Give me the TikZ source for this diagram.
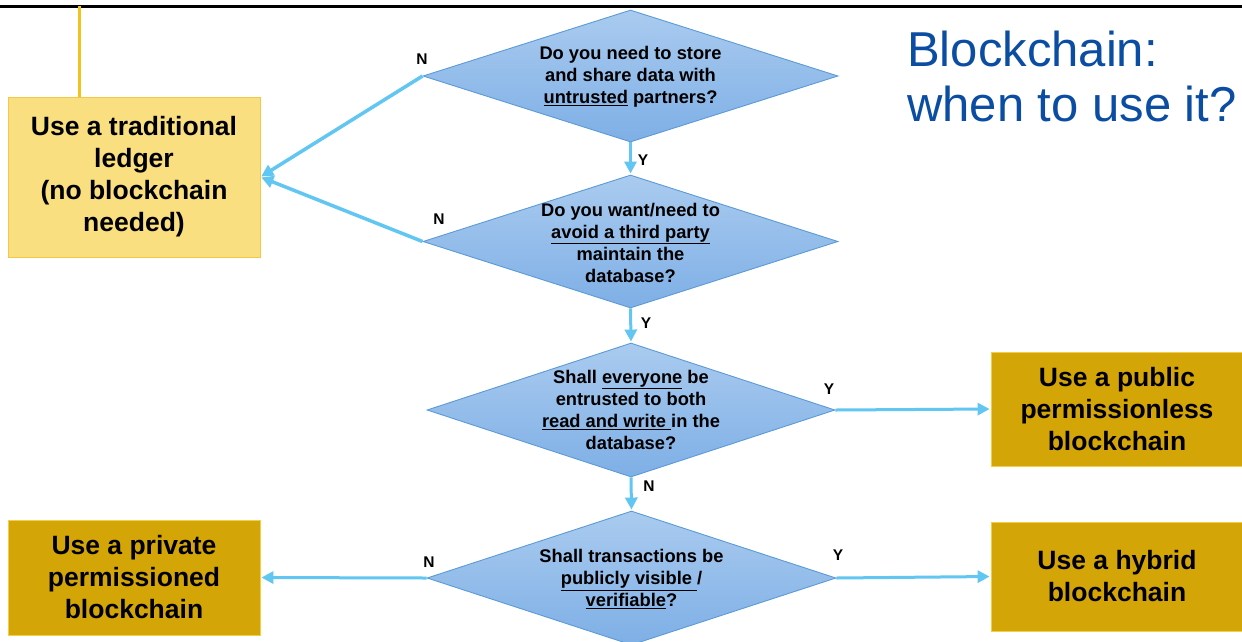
\documentclass[tikz,border=0pt]{standalone}
\usepackage{fontspec}
\setmainfont{Liberation Sans}
\usetikzlibrary{shapes.geometric,arrows.meta}
\definecolor{flowblue}{HTML}{62C6F2}
\definecolor{diatop}{HTML}{AACBEF}
\definecolor{diabot}{HTML}{7EAFE6}
\definecolor{diaedge}{HTML}{5B9BD5}
\definecolor{paleyellow}{HTML}{F9DF80}
\definecolor{paleedge}{HTML}{F4C842}
\definecolor{dropline}{HTML}{F4C21C}
\definecolor{gold}{HTML}{D4A507}
\definecolor{goldedge}{HTML}{F5CE45}
\definecolor{titleblue}{HTML}{0A4DA2}
\begin{document}
\begin{tikzpicture}[x=1pt,y=-1pt,
  decision/.style={diamond,draw=diaedge,line width=0.9pt,top color=diatop,bottom color=diabot,
    inner sep=0pt,minimum width=#1,minimum height=133pt},
  qtext/.style={align=center,font=\bfseries\fontsize{18.3}{22.2}\selectfont,inner sep=0pt},
  palebox/.style={rectangle,draw=paleedge,line width=0.8pt,fill=paleyellow,align=center,
    font=\bfseries\fontsize{26.5}{32}\selectfont,minimum width=252pt,minimum height=160pt,inner sep=0pt},
  goldbox/.style={rectangle,draw=goldedge,line width=0.8pt,fill=gold,align=center,
    font=\bfseries\fontsize{26.5}{32}\selectfont,minimum width=252pt,inner sep=0pt},
  flow/.style={draw=flowblue,line width=3pt,-{Triangle[length=12pt,width=12pt]},shorten >=1pt},
  yn/.style={font=\bfseries\fontsize{15.5}{17}\selectfont,inner sep=0pt},
  ttl/.style={font=\fontsize{49}{56}\selectfont,text=titleblue,inner sep=0pt,anchor=base west}]
\useasboundingbox (0,0) rectangle (1242,641);
\clip (0,0) rectangle (1242,641);
\fill[white] (0,0) rectangle (1242,641);

% header rule and the yellow drop line
\coordinate (hl) at (0,6);
\coordinate (hr) at (1242,6);
\draw[line width=3pt,black] (hl) -- (hr);
\coordinate (drop) at (79,6);

% outcome boxes
\node[palebox] (trad) at (134,177) {Use a traditional\\ledger\\(no blockchain\\needed)};
\draw[draw=dropline,line width=3pt] (drop) -- (trad.north -| drop);
\node[goldbox,minimum height=114pt] (pub) at (1117,409) {Use a public\\permissionless\\blockchain};
\node[goldbox,minimum height=109pt] (hyb) at (1117,576.5) {Use a hybrid\\blockchain};
\node[goldbox,minimum height=115pt] (priv) at (134,577.5) {Use a private\\permissioned\\blockchain};

% decisions
\node[decision=415pt,minimum height=132pt] (d1) at (630.5,76) {};
\node[qtext] (q1) at (630.5,76.5) {Do you need to store\\and share data with\\\underline{untrusted} partners?};
\node[decision=415pt,minimum height=133pt] (d2) at (630.5,241.5) {};
\node[qtext] (q2) at (630.5,243) {Do you want/need to\\\underline{avoid a third party}\\maintain the\\database?};
\node[decision=408pt,minimum height=134pt] (d3) at (631,410) {};
\node[qtext] (q3) at (631,410) {Shall \underline{everyone} be\\entrusted to both\\\underline{read and write\ }in the\\database?};
\node[decision=409pt,minimum height=134pt] (d4) at (631.5,578) {};
\node[qtext] (q4) at (631.5,579) {Shall transactions be\\\underline{publicly visible\ }/\\\underline{verifiable}?};

% connectors
\draw[flow,line width=3.5pt] (d1.west) -- (trad.east);
\draw[flow,line width=3.5pt] (d2.west) -- (trad.east);
\draw[flow] (d1.south) -- (d2.north);
\draw[flow] (d2.south) -- (d3.north);
\draw[flow] (d3.south) -- (d4.north);
\draw[flow] (d3.east) -- (pub.west);
\draw[flow] (d4.east) -- (hyb.west);
\draw[flow] (d4.west) -- (priv.east);

% branch labels
\node[yn] (n1) at (422,59) {N};
\node[yn] (n2) at (439,219) {N};
\node[yn] (y1) at (643,160) {Y};
\node[yn] (y2) at (646,323) {Y};
\node[yn] (y3) at (829,389) {Y};
\node[yn] (n3) at (649,486) {N};
\node[yn] (y4) at (838,555) {Y};
\node[yn] (n4) at (429,562) {N};

% title
\node[ttl] (t1) at (907,66) {Blockchain:};
\node[ttl] (t2) at (907,121) {when to use it?};
\end{tikzpicture}
\end{document}
